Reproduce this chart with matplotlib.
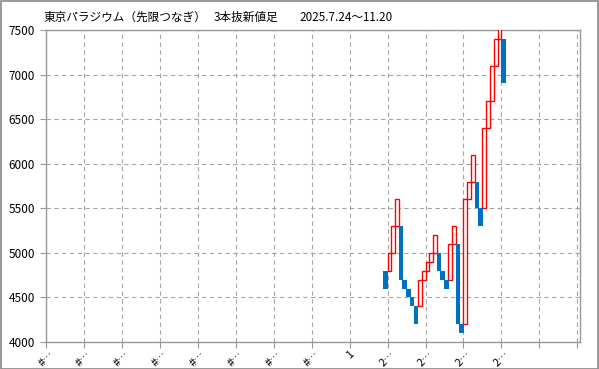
import numpy as np
import matplotlib
matplotlib.use("Agg")
import matplotlib.pyplot as plt
from matplotlib.patches import Rectangle

plt.rcParams['font.family'] = ['Noto Sans CJK JP', 'DejaVu Sans']

title_parts = ["東京パラジウム（先限つなぎ）", "3本抜新値足", "2025.7.24〜11.20"]
title_x_px = [44, 214, 299]

# category axis has 140 slots, the bricks fill slots 89..120
n_slots = 140
first_slot = 89
brick_open = [4800, 4800, 5000, 5300, 5300, 4700, 4600, 4500, 4400, 4400,
              4700, 4800, 4900, 5000, 5000, 4800, 4700, 4700, 5100, 5100,
              4200, 4200, 5600, 5800, 5800, 5500, 5500, 6400, 6700, 7100,
              7400, 7400]
brick_close = [4600, 5000, 5300, 5600, 4700, 4600, 4500, 4400, 4200, 4700,
               4800, 4900, 5000, 5200, 4800, 4700, 4600, 5100, 5300, 4200,
               4100, 5600, 5800, 6100, 5500, 5300, 6400, 6700, 7100, 7400,
               7700, 6900]
x_labels = ["#…"] * 8 + ["1"] + ["2…"] * 4 + ["", ""]
y_ticks = [4000, 4500, 5000, 5500, 6000, 6500, 7000, 7500]

fig = plt.figure(figsize=(5.99, 3.69), dpi=100)
ax = fig.add_axes([46 / 599, 27 / 369, 534 / 599, 312 / 369])

o = np.array(brick_open)
c = np.array(brick_close)
x = np.arange(first_slot, first_slot + len(o)) + 0.5
up = c > o

# white boxes with red outline for rising bricks, solid blue for falling
ax.bar(x[up], (c - o)[up], bottom=o[up], width=1.0, facecolor="white",
       edgecolor="#FF0000", linewidth=1.0, zorder=3)
ax.bar(x[~up], (o - c)[~up], bottom=c[~up], width=1.15, color="#0070C0",
       linewidth=0, zorder=4)

ax.set_xlim(0, n_slots + 0.7)
ax.set_ylim(4000, 7500)
ax.set_yticks(y_ticks)
ax.set_xticks(np.arange(0, n_slots + 1, 10))
ax.set_xticklabels(x_labels, rotation=45, ha="center", fontsize=8)
ax.tick_params(axis="y", labelsize=8.5, length=4, color="#999999", pad=4)
ax.tick_params(axis="x", length=4, color="#999999", pad=1)

ax.set_axisbelow(True)
ax.grid(True, color="#A6A6A6", linestyle=(0, (4, 3)), linewidth=0.8)
for s in ax.spines.values():
    s.set_color("#999999")
    s.set_linewidth(1.0)

for part, px in zip(title_parts, title_x_px):
    fig.text(px / 599, 1 - 17.5 / 369, part, fontsize=8.4, va="center", ha="left")

# outer frame of the picture
fig.patches.append(Rectangle((0.001, 0.001), 0.997, 0.996, transform=fig.transFigure,
                             fill=False, edgecolor="#888888", linewidth=1.2))

fig.savefig("out.png", dpi=100)
